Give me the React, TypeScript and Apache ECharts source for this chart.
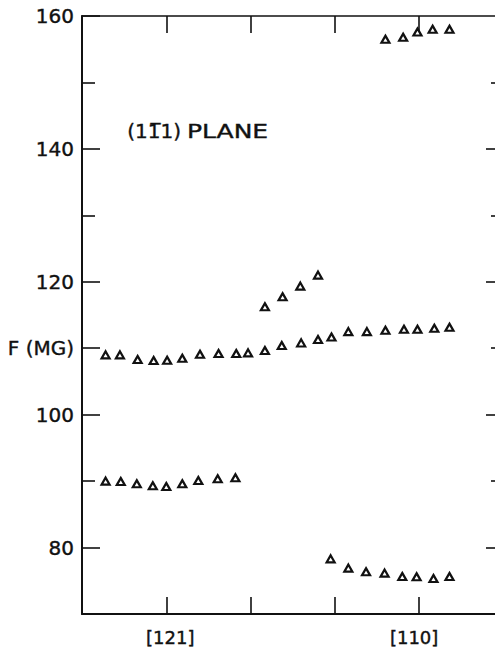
import React, { useEffect, useRef } from 'react';
import * as echarts from 'echarts';

const FONT = '"DejaVu Sans", sans-serif';
const INK = '#111';

// Field direction: angle (degrees) measured from [121] towards [110] in the (1-11) plane
const angleMin = -10;
const angleMax = 39;
const angleTicks = [0, 10, 20, 30];
const angleLabelValues = [0, 30];
const angleLabelTexts = ['[121]', '[110]'];

// F axis (MG) ticks
const fMin = 70;
const fMax = 160;
const fMajorLeft = [80, 100, 110, 120, 140, 160];
const fMinorLeft = [90, 130, 150];
const fMajorRight = [80, 100, 120, 140];
const fMinorRight = [90, 110, 130, 150];
const fLabelValues = [80, 100, 110, 120, 140, 160];

// dHvA frequency branches (angle in degrees, frequency in MG)
const lowAngle = [-7.2, -5.4, -3.5, -1.6, 0.0, 1.9, 3.8, 6.1, 8.2];
const lowF = [90.0, 89.95, 89.6, 89.3, 89.2, 89.6, 90.1, 90.35, 90.5];

const midAngle = [-7.2, -5.5, -3.4, -1.5, 0.1, 1.9, 4.0, 6.2, 8.3, 9.7, 11.7, 13.7, 16.0, 18.0, 19.6, 21.6, 23.8, 26.0, 28.2, 29.8, 31.8, 33.6];
const midF = [109.0, 109.0, 108.3, 108.15, 108.2, 108.5, 109.1, 109.2, 109.2, 109.3, 109.65, 110.4, 110.8, 111.3, 111.7, 112.5, 112.5, 112.7, 112.85, 112.85, 113.0, 113.15];

const riseAngle = [11.7, 13.8, 15.9, 18.0];
const riseF = [116.25, 117.75, 119.35, 121.0];

const topAngle = [26.0, 28.1, 29.8, 31.6, 33.6];
const topF = [156.5, 156.8, 157.6, 158.0, 158.0];

const dropAngle = [19.5, 21.6, 23.7, 25.9, 28.0, 29.7, 31.7, 33.6];
const dropF = [78.3, 76.9, 76.35, 76.15, 75.65, 75.6, 75.35, 75.65];

const zip = (xs: number[], ys: number[]) => xs.map((x, i) => [x, ys[i]]);

// plot frame runs off the right edge of the page
const GRID = { left: 82, top: 16, right: 0, bottom: 40 };

export default function App() {
  const ref = useRef<HTMLDivElement>(null);

  useEffect(() => {
    if (!ref.current) return;
    const chart = echarts.init(ref.current, undefined, { renderer: 'svg' });

    const triangle = (name: string, data: number[][]) => ({
      name,
      type: 'scatter',
      xAxisIndex: 0,
      yAxisIndex: 0,
      symbol: 'triangle',
      symbolSize: [8, 7],
      itemStyle: { color: '#fff', borderColor: INK, borderWidth: 2.2, opacity: 1 },
      data,
      z: 5,
    });

    const fAxis = (
      gridIndex: number,
      position: 'left' | 'right',
      ticks: number[],
      len: number,
      labels: number[] | null,
      line: boolean
    ) => ({
      type: 'value',
      gridIndex,
      position,
      min: fMin,
      max: fMax,
      splitLine: { show: false },
      axisLine: { show: line, onZero: false, lineStyle: { color: INK, width: 2 } },
      axisTick: { show: true, inside: true, length: len, customValues: ticks, lineStyle: { color: INK, width: 1.6 } },
      axisLabel: labels
        ? {
            show: true,
            customValues: labels,
            margin: 8,
            color: INK,
            fontFamily: FONT,
            fontSize: 20,
            textBorderColor: INK,
            textBorderWidth: 0.4,
            formatter: (v: number) => (v === 110 ? 'F (MG)' : String(v)),
          }
        : { show: false },
    });

    const labelRich = {
      fontFamily: FONT,
      fontSize: 18,
      color: INK,
      textBorderColor: INK,
      textBorderWidth: 0.4,
    };

    chart.setOption({
      animation: false,
      backgroundColor: '#fff',
      grid: [
        { ...GRID, containLabel: false },
        { ...GRID, containLabel: false },
      ],
      xAxis: [
        {
          type: 'value',
          gridIndex: 0,
          position: 'bottom',
          min: angleMin,
          max: angleMax,
          interval: 10,
          splitLine: { show: false },
          axisLine: { show: true, onZero: false, lineStyle: { color: INK, width: 2 } },
          axisTick: { show: true, inside: true, length: 17, customValues: angleTicks, lineStyle: { color: INK, width: 1.6 } },
          axisLabel: {
            show: true,
            customValues: angleLabelValues,
            margin: 14,
            formatter: (v: number) => {
              const i = angleLabelValues.indexOf(v);
              if (i < 0) return '';
              return i === 0 ? `{a|${angleLabelTexts[0]}}` : `{b|${angleLabelTexts[1]}}`;
            },
            rich: {
              a: { ...labelRich, padding: [0, 0, 0, 8] },
              b: { ...labelRich, padding: [0, 10, 0, 0] },
            },
          },
        },
        {
          type: 'value',
          gridIndex: 0,
          position: 'top',
          min: angleMin,
          max: angleMax,
          interval: 10,
          splitLine: { show: false },
          axisLine: { show: true, onZero: false, lineStyle: { color: INK, width: 1.6 } },
          axisTick: { show: true, inside: true, length: 17, customValues: angleTicks, lineStyle: { color: INK, width: 1.6 } },
          axisLabel: { show: false },
        },
        {
          type: 'value',
          gridIndex: 1,
          min: angleMin,
          max: angleMax,
          show: false,
        },
      ],
      yAxis: [
        fAxis(0, 'left', fMajorLeft, 18, fLabelValues, true),
        fAxis(0, 'right', fMajorRight, 9, null, false),
        fAxis(1, 'left', fMinorLeft, 13, null, false),
        fAxis(1, 'right', fMinorRight, 4, null, false),
      ],
      graphic: [
        {
          type: 'text',
          left: 127,
          top: 121,
          style: {
            text: '(11\u03051)',
            font: `20px ${FONT}`,
            fill: INK,
            stroke: INK,
            lineWidth: 0.4,
          },
        },
        {
          type: 'text',
          x: 187,
          y: 121,
          scaleX: 1.25,
          style: {
            text: 'PLANE',
            font: `20px ${FONT}`,
            fill: INK,
            stroke: INK,
            lineWidth: 0.4,
          },
        },
      ],
      series: [
        triangle('lower', zip(lowAngle, lowF)),
        triangle('middle', zip(midAngle, midF)),
        triangle('rising', zip(riseAngle, riseF)),
        triangle('upper', zip(topAngle, topF)),
        triangle('falling', zip(dropAngle, dropF)),
      ],
    });

    return () => chart.dispose();
  }, []);

  return (
    <div
      ref={ref}
      style={{ position: 'absolute', left: 0, top: 0, width: 495, height: 654, background: '#fff' }}
    />
  );
}
